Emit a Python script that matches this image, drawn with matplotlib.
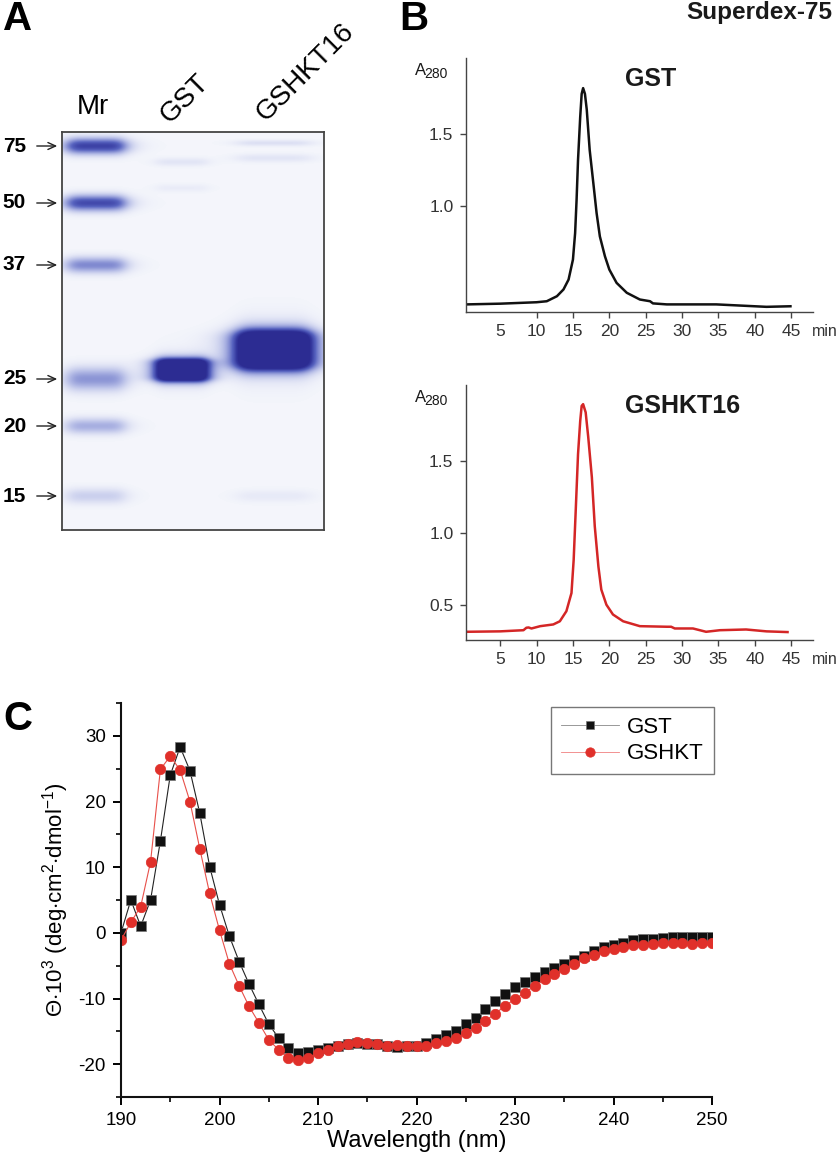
import numpy as np
import matplotlib.pyplot as plt
from matplotlib.colors import LinearSegmentedColormap
from matplotlib.ticker import MultipleLocator

plt.rcParams['font.family'] = ['Liberation Sans', 'DejaVu Sans']
plt.rcParams['mathtext.fontset'] = 'custom'
plt.rcParams['mathtext.rm'] = 'Liberation Sans'
plt.rcParams['mathtext.it'] = 'Liberation Sans:italic'
plt.rcParams['mathtext.bf'] = 'Liberation Sans:bold'
plt.rcParams['axes.unicode_minus'] = False

# --- A: SDS-PAGE gel (positions in px from gel top-left) ---
marker_kda = ['75', '50', '37', '25', '20', '15']
marker_row = [14, 71, 133, 247, 294, 364]
marker_int = [0.80, 0.75, 0.45, 0.40, 0.30, 0.16]
lane_names = ['Mr', 'GST', 'GSHKT16']
lane_center = [34, 120, 212]
lane_half = [29, 26, 37]
# extra bands in the sample lanes
sample_lane = [1, 1, 1, 2, 2, 2, 2]
sample_row = [238, 30, 56, 218, 11, 26, 364]
sample_half = [11, 4, 4, 19, 3, 4, 6]
sample_int = [1.6, 0.07, 0.04, 1.8, 0.09, 0.07, 0.05]

# --- B: Superdex-75 elution profiles ---
gst_t = [0.4, 5, 10, 11.4, 12.8, 13.7, 14.4, 15.0, 15.3, 15.5, 15.7, 16.0, 16.2,
         16.4, 16.65, 16.9, 17.3, 17.8, 18.25, 18.7, 19.4, 20.0, 21.0, 22.4,
         24.2, 25.6, 26.0, 27.9, 34.7, 41.6, 44.9]
gst_a = [0.313, 0.318, 0.328, 0.335, 0.37, 0.417, 0.486, 0.625, 0.81, 1.04, 1.32,
         1.62, 1.78, 1.82, 1.78, 1.67, 1.39, 1.16, 0.95, 0.787, 0.648, 0.556,
         0.463, 0.394, 0.347, 0.335, 0.32, 0.313, 0.313, 0.296, 0.30]
hkt_t = [0.4, 5, 8.2, 8.6, 8.9, 9.3, 10.5, 12.3, 13.2, 14.1, 14.8, 15.1, 15.4,
         15.7, 16.0, 16.2, 16.4, 16.75, 17.1, 17.6, 18.0, 18.5, 18.9, 19.6, 20.5,
         21.9, 24.2, 27.9, 28.5, 29.0, 31.5, 33.3, 35.2, 38.8, 41.6, 44.5]
hkt_a = [0.317, 0.32, 0.328, 0.345, 0.347, 0.34, 0.356, 0.368, 0.39, 0.46, 0.586,
         0.816, 1.18, 1.55, 1.78, 1.885, 1.897, 1.84, 1.67, 1.39, 1.05, 0.77,
         0.61, 0.505, 0.437, 0.39, 0.356, 0.352, 0.352, 0.34, 0.34, 0.317, 0.328,
         0.333, 0.32, 0.315]
b_xticks = [5, 10, 15, 20, 25, 30, 35, 40, 45]

# --- C: CD spectra ---
wl = list(range(190, 251))
cd_gst = [0, 5.0, 1.0, 5.0, 14.0, 24.0, 28.3, 24.7, 18.2, 10.1, 4.3, -0.5, -4.4,
          -7.8, -10.9, -13.9, -16.0, -17.6, -18.3, -18.2, -17.8, -17.5, -17.2,
          -16.9, -16.8, -16.9, -17.0, -17.3, -17.4, -17.3, -17.2, -16.8, -16.2,
          -15.6, -14.9, -13.9, -13.0, -11.6, -10.4, -9.3, -8.3, -7.5, -6.8, -6.0,
          -5.4, -4.8, -4.2, -3.5, -2.8, -2.2, -1.8, -1.5, -1.1, -1.0, -0.9, -0.8,
          -0.7, -0.7, -0.6, -0.6, -0.6]
cd_hkt = [-1.1, 1.6, 4.0, 10.8, 24.9, 26.9, 24.8, 20.0, 12.8, 6.0, 0.4, -4.7,
          -8.1, -11.2, -13.7, -16.3, -17.8, -19.1, -19.3, -19.1, -18.3, -17.8,
          -17.2, -17.0, -16.7, -16.8, -16.9, -17.2, -17.1, -17.2, -17.3, -17.2,
          -16.8, -16.5, -16.0, -15.3, -14.5, -13.4, -12.3, -11.1, -10.1, -9.1,
          -8.1, -7.1, -6.3, -5.5, -4.8, -3.9, -3.3, -2.7, -2.4, -2.1, -1.9, -1.9,
          -1.7, -1.6, -1.5, -1.5, -1.7, -1.6, -1.6]

W, H = 840, 1165
fig = plt.figure(figsize=(W / 100, H / 100), dpi=100)


def ftxt(x, y, s, **kw):
    return fig.text(x / W, 1 - y / H, s, **kw)


def pxbox(left, top, right, bottom):
    return [left / W, 1 - bottom / H, (right - left) / W, (bottom - top) / H]


# ---------- A: gel ----------
gw, gh = 262, 398
axa = fig.add_axes(pxbox(62, 132, 62 + gw, 132 + gh))
yy, xx = np.mgrid[0:gh, 0:gw] + 0.5
dens = np.zeros((gh, gw))


def add_band(cx, hw, cy, hh, s, sharp):
    fx = 1 / (1 + np.abs((xx - cx) / hw) ** 6)
    if sharp:
        fy = 1 / (1 + np.abs((yy - cy) / hh) ** 6)
    else:
        fy = np.exp(-((yy - cy) / hh) ** 2)
    return s * fx * fy


for row, s in zip(marker_row, marker_int):
    hh = 11 if row == 247 else 7.5
    dens += add_band(lane_center[0], lane_half[0], row, hh, s, False)
for ln, row, hh, s in zip(sample_lane, sample_row, sample_half, sample_int):
    dens += add_band(lane_center[ln], lane_half[ln], row, hh, s, s > 1)
dens = np.clip(dens, 0, 1)

gel_cmap = LinearSegmentedColormap.from_list(
    'gel', [(0, '#f4f5fb'), (0.25, '#b4bbe6'), (0.6, '#5864c0'), (0.85, '#363aa0'), (1, '#2c2c92')])
axa.imshow(dens, cmap=gel_cmap, vmin=0, vmax=1, extent=(0, gw, gh, 0), aspect='auto',
           interpolation='bilinear')
axa.set_xlim(0, gw)
axa.set_ylim(gh, 0)
axa.set_xticks([])
axa.set_yticks([])
for sp in axa.spines.values():
    sp.set_color('#444444')
    sp.set_linewidth(1.3)

for kda, row in zip(marker_kda, marker_row):
    axa.annotate('', xy=(-2, row), xytext=(-28, row), annotation_clip=False,
                 arrowprops=dict(arrowstyle='->,head_length=0.55,head_width=0.25', lw=1, color='#222222'))
    axa.text(-36, row, kda, ha='right', va='center', fontsize=15, fontweight='bold', clip_on=False)

ftxt(93, 107, lane_names[0], ha='center', va='center', fontsize=20)
ftxt(170, 124, lane_names[1], ha='left', va='baseline', fontsize=20, rotation=45, rotation_mode='anchor')
ftxt(266, 122, lane_names[2], ha='left', va='baseline', fontsize=20, rotation=45, rotation_mode='anchor')

# ---------- B: elution profiles ----------
axb1 = fig.add_axes(pxbox(466, 58, 813, 312))
axb2 = fig.add_axes(pxbox(466, 385, 813, 640))
panels = [(axb1, gst_t, gst_a, '#111111', 'GST', [1.0, 1.5], 58, 312),
          (axb2, hkt_t, hkt_a, '#d42626', 'GSHKT16', [0.5, 1.0, 1.5], 385, 640)]
for ax, t, a, col, name, yt, top, bot in panels:
    ax.plot(t, a, color=col, lw=1.8, solid_joinstyle='round')
    ax.set_xlim(0.3, 48)
    ax.set_ylim(0.26, 2.03)
    ax.set_xticks(b_xticks)
    ax.set_yticks(yt)
    ax.set_yticklabels([f'{v:.1f}' for v in yt])
    for s in ('top', 'right'):
        ax.spines[s].set_visible(False)
    for s in ('left', 'bottom'):
        ax.spines[s].set_color('#444444')
        ax.spines[s].set_linewidth(1.0)
    ax.tick_params(direction='out', length=4, width=1, color='#444444',
                   labelsize=12.5, labelcolor='#333333', pad=5)
    ax.patch.set_alpha(0)
    ftxt(625, top + 21, name, ha='left', va='center', fontsize=18, fontweight='bold', color='#1a1a1a')
    ftxt(415, top + 17, 'A', ha='left', va='baseline', fontsize=12, color='#1a1a1a')
    ftxt(424, top + 20, '280', ha='left', va='baseline', fontsize=10, color='#1a1a1a')
    ftxt(812, bot + 19, 'min', ha='left', va='center', fontsize=11.5, color='#333333')
axb1.xaxis.get_major_ticks()[0].tick1line.set_visible(False)

ftxt(759, 12, 'Superdex-75', ha='center', va='center', fontsize=17.5, fontweight='bold', color='#1a1a1a')

# ---------- C: CD spectra ----------
axc = fig.add_axes(pxbox(121, 703, 712, 1097))
axc.plot(wl, cd_gst, color='#222222', lw=0.8, marker='s', ms=6.5,
         mfc='#111111', mec='#777777', mew=0.5, label='GST')
axc.plot(wl, cd_hkt, color='#e8504a', lw=0.8, marker='o', ms=7.5,
         mfc='#e0302a', mec='#e0302a', mew=0.5, label='GSHKT')
axc.set_xlim(190, 250)
axc.set_ylim(-25, 35)
axc.xaxis.set_major_locator(MultipleLocator(10))
axc.xaxis.set_minor_locator(MultipleLocator(5))
axc.yaxis.set_minor_locator(MultipleLocator(5))
axc.set_yticks([-20, -10, 0, 10, 20, 30])
for s in ('top', 'right'):
    axc.spines[s].set_visible(False)
for s in ('left', 'bottom'):
    axc.spines[s].set_linewidth(1.5)
    axc.spines[s].set_color('#111111')
axc.tick_params(which='major', direction='out', length=6, width=1.4, labelsize=13.5, pad=5)
axc.tick_params(which='minor', direction='out', length=3.5, width=1.2)
axc.set_xlabel('Wavelength (nm)', fontsize=17)
axc.xaxis.set_label_coords(0.5, -0.083)
axc.set_ylabel(r'$\Theta$$\cdot$10$^{3}$ (deg$\cdot$cm$^{2}$$\cdot$dmol$^{-1}$)', fontsize=16)
axc.yaxis.set_label_coords(-0.085, 0.5)
leg = axc.legend(loc='upper right', bbox_to_anchor=(1.003, 0.99), fontsize=16,
                 frameon=True, fancybox=False, edgecolor='#555555', handlelength=2.6,
                 borderpad=0.45, labelspacing=0.25, handletextpad=0.35, borderaxespad=0,
                 markerscale=0.9)
leg.get_frame().set_linewidth(1.0)
for ln in leg.get_lines():
    ln.set_linewidth(0.6)
leg.get_lines()[0].set_color('#888888')
leg.get_lines()[1].set_color('#f08080')

ftxt(3, 19, 'A', ha='left', va='center', fontsize=29, fontweight='bold')
ftxt(399, 19, 'B', ha='left', va='center', fontsize=29, fontweight='bold')
ftxt(3, 719, 'C', ha='left', va='center', fontsize=29, fontweight='bold')

fig.savefig('out.png', dpi=100)
